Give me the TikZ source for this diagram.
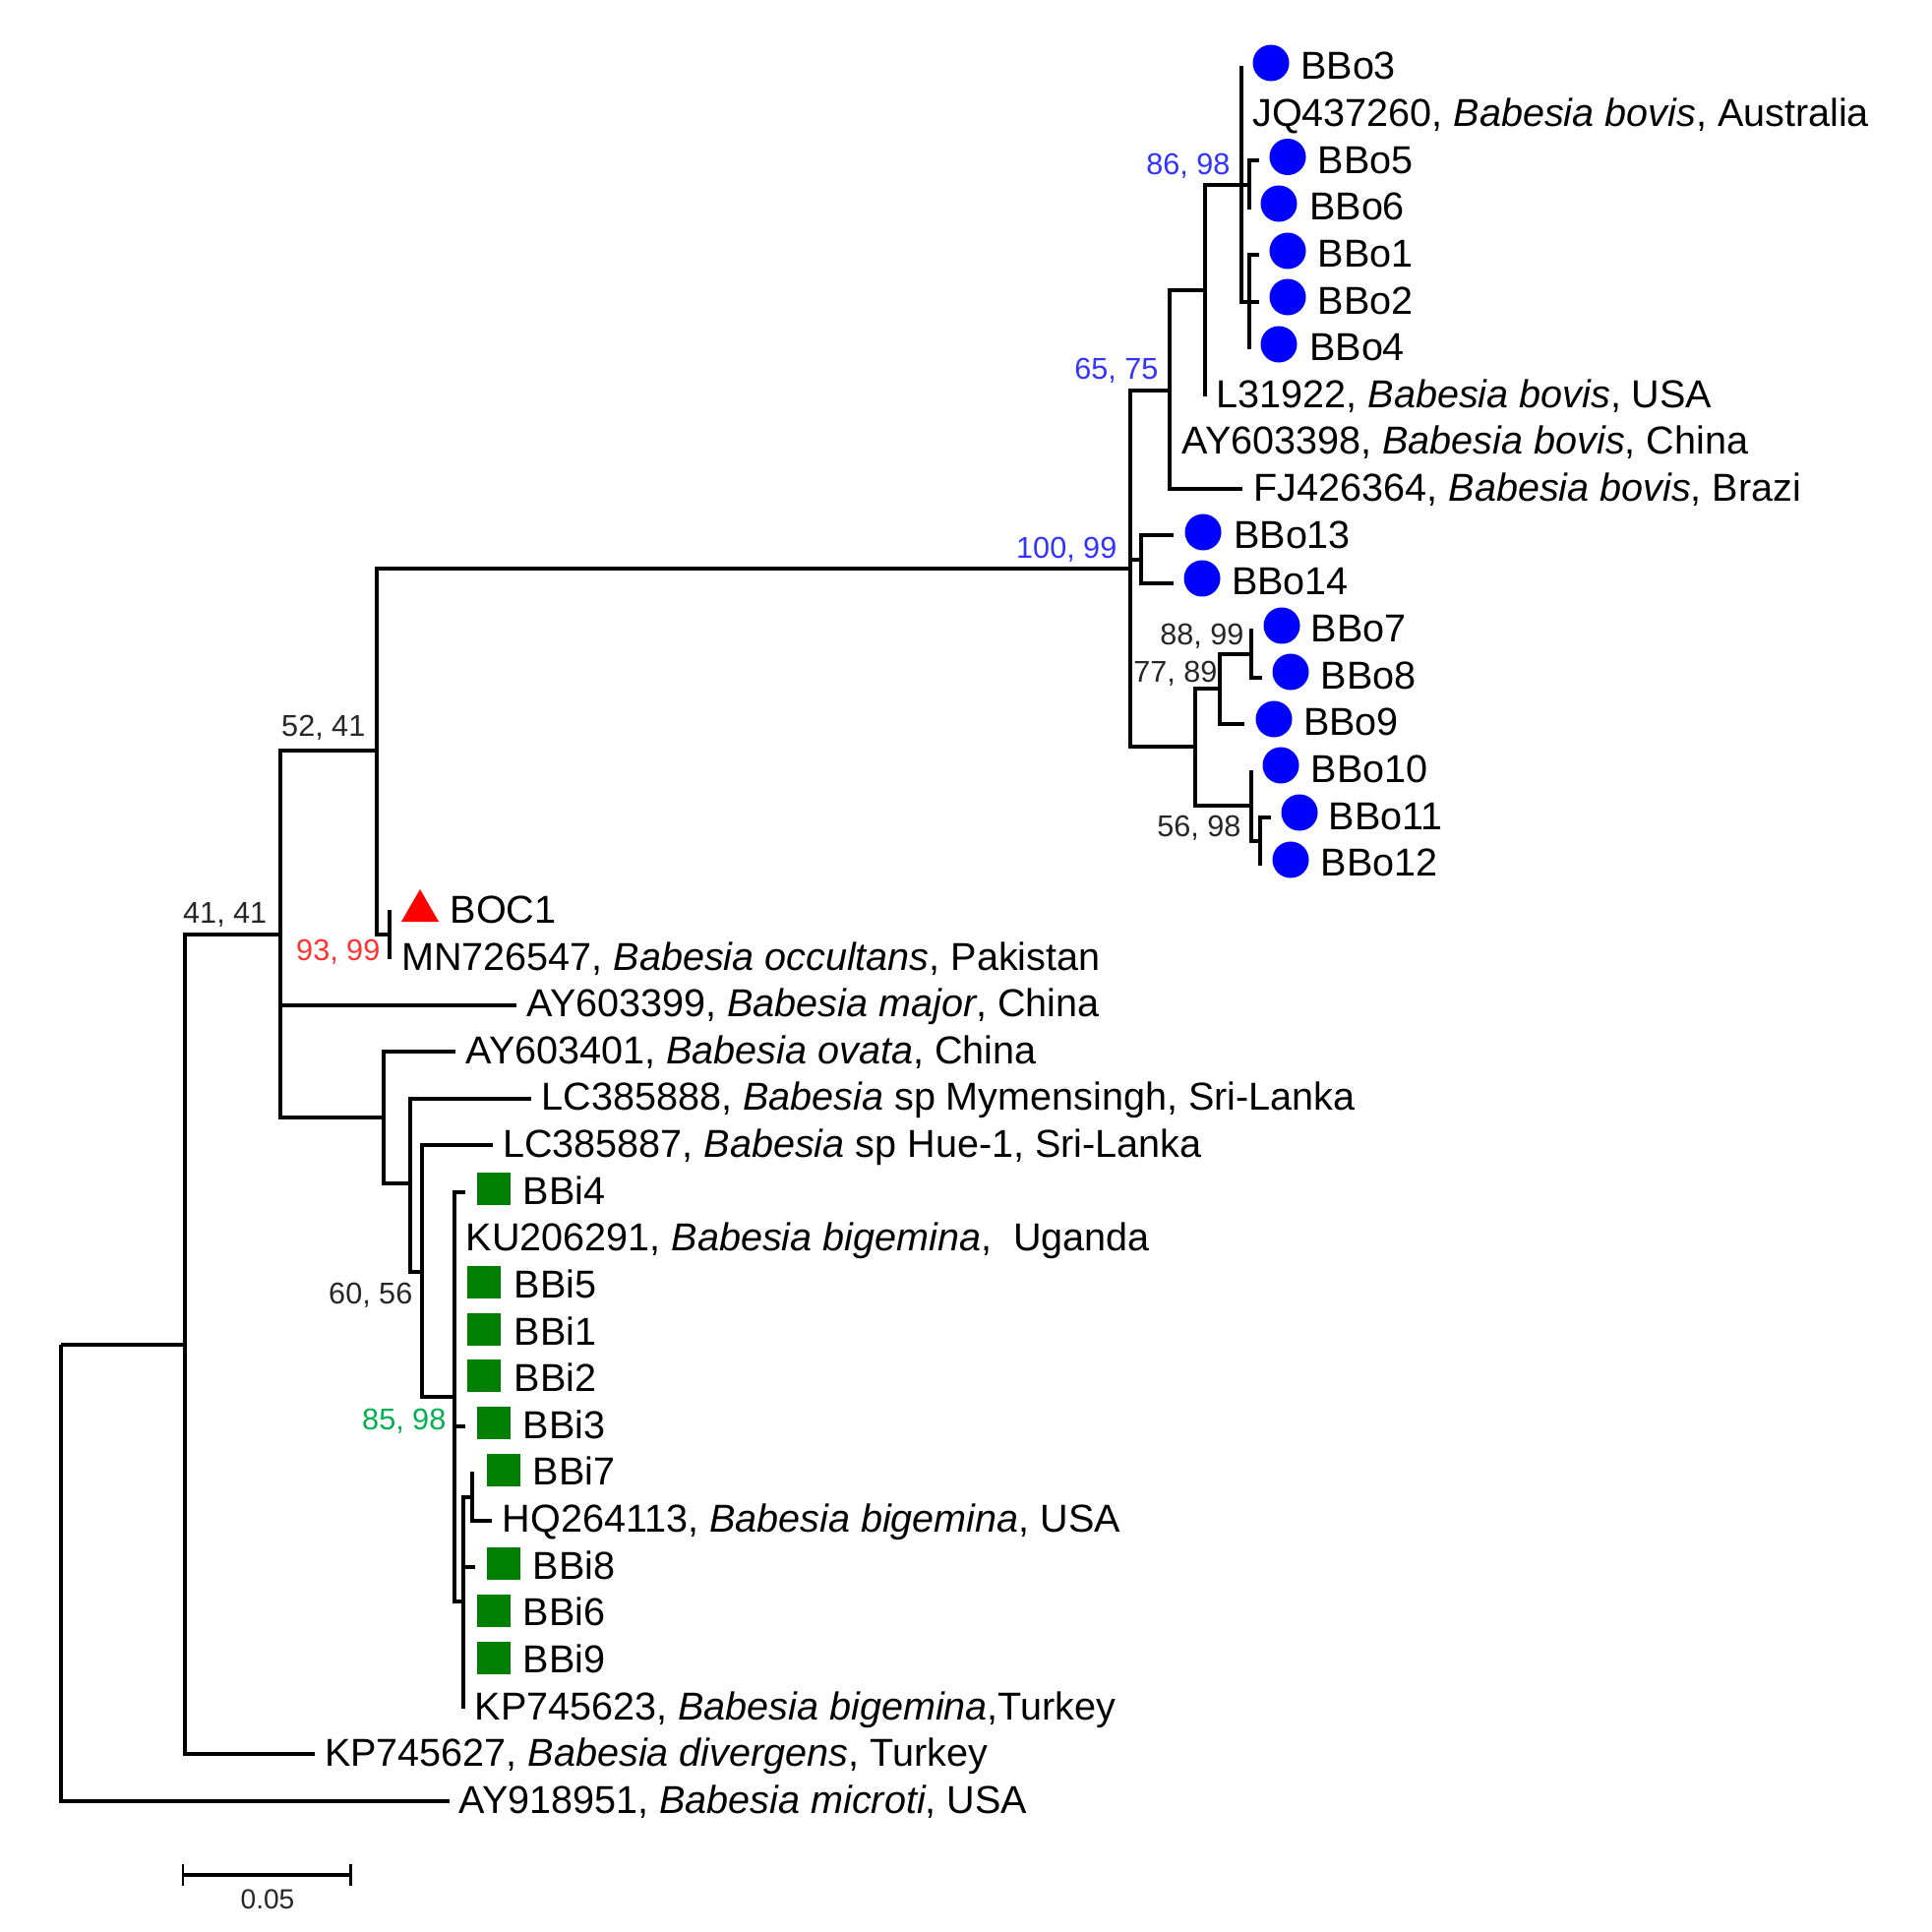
\documentclass[tikz,border=0pt]{standalone}
\usepackage{fontspec}
\setmainfont{Liberation Sans}
\usetikzlibrary{shapes.geometric, arrows.meta}
\definecolor{supportblue}{RGB}{51,51,255}
\definecolor{supportred}{RGB}{255,51,51}
\definecolor{supportgreen}{RGB}{0,176,80}
\definecolor{markergreen}{RGB}{0,128,0}

\begin{document}
\begin{tikzpicture}[x=0.01cm, y=-0.01cm]

  % Styles
  \tikzstyle{branch}=[line width=0.95pt]
  \tikzstyle{taxon}=[anchor=base west, inner sep=0pt, font=\fontsize{11.25}{13}\selectfont]
  \tikzstyle{support}=[anchor=east, inner sep=0pt, text=black!85, font=\fontsize{8.7}{10}\selectfont]
  \tikzstyle{bovis}=[circle, fill=blue, inner sep=0pt, minimum size=3.7mm]
  \tikzstyle{bigemina}=[rectangle, fill=markergreen, inner sep=0pt, minimum size=3.3mm]
  \tikzstyle{occultans}=[regular polygon, regular polygon sides=3, fill=red, inner sep=0pt, minimum size=4.4mm]

  \useasboundingbox (0,0) rectangle (1964,1964);

  % Inner forks
  \coordinate (root) at (62,1367);
  \coordinate (n1) at (188,1367);
  \coordinate (n2) at (285,950);
  \coordinate (n3) at (383,763);
  \coordinate (n4) at (390,1136);
  \coordinate (n5) at (1149,578);
  \coordinate (n6) at (417,1203);
  \coordinate (n7) at (429,1293);
  \coordinate (n8) at (462,1420);
  \coordinate (n9) at (471,1628);
  \coordinate (n10) at (480,1522);
  \coordinate (n11) at (1189,397);
  \coordinate (n12) at (1160,569);
  \coordinate (n13) at (1215,759);
  \coordinate (n14) at (1225,295);
  \coordinate (n15) at (1262,188);
  \coordinate (n17) at (1270,188);
  \coordinate (n18) at (1270,307);
  \coordinate (n19) at (1240,700);
  \coordinate (n20) at (1272,819);
  \coordinate (n21) at (1272,665);
  \coordinate (n22) at (1281,855);
  \coordinate (nBOC) at (396,950);

  % Branch tips
  \coordinate (tBBo3) at (1262,67);
  \coordinate (tBBo5) at (1280,163);
  \coordinate (tBBo6) at (1270,213);
  \coordinate (tBBo1) at (1280,259);
  \coordinate (tBBo2) at (1280,307);
  \coordinate (tBBo4) at (1270,355);
  \coordinate (tL) at (1225,403);
  \coordinate (tFJ) at (1263,497);
  \coordinate (tBBo13) at (1193,544);
  \coordinate (tBBo14) at (1193,593);
  \coordinate (tBBo7) at (1272,639);
  \coordinate (tBBo8) at (1283,689);
  \coordinate (tBBo9) at (1265,736);
  \coordinate (tBBo10) at (1272,783);
  \coordinate (tBBo11) at (1292,831);
  \coordinate (tBBo12) at (1281,880);
  \coordinate (tBOC) at (396,925);
  \coordinate (tMN) at (396,975);
  \coordinate (tMajor) at (525,1022);
  \coordinate (tOvata) at (463,1069);
  \coordinate (tLC8) at (540,1117);
  \coordinate (tLC7) at (501,1164);
  \coordinate (tBBi4) at (473,1212);
  \coordinate (tBBi3) at (473,1450);
  \coordinate (tBBi7) at (480,1496);
  \coordinate (tHQ) at (500,1546);
  \coordinate (tBBi8) at (483,1593);
  \coordinate (tKP3) at (471,1737);
  \coordinate (tKP7) at (320,1783);
  \coordinate (tMicroti) at (457,1831);

  % Root and lower part of the tree
  \draw[branch] (root) -- (n1);
  \draw[branch] (root) |- (tMicroti);
  \draw[branch] (n1) |- (n2);
  \draw[branch] (n1) |- (tKP7);
  \draw[branch] (n2) |- (n3);
  \draw[branch] (n2) |- (tMajor);
  \draw[branch] (n2) |- (n4);
  \draw[branch] (n3) |- (n5);
  \draw[branch] (n3) |- (nBOC);
  \draw[branch] (nBOC) -- (tBOC);
  \draw[branch] (nBOC) -- (tMN);
  \draw[branch] (n4) |- (tOvata);
  \draw[branch] (n4) |- (n6);
  \draw[branch] (n6) |- (tLC8);
  \draw[branch] (n6) |- (n7);
  \draw[branch] (n7) |- (tLC7);
  \draw[branch] (n7) |- (n8);
  \draw[branch] (n8) |- (tBBi4);
  \draw[branch] (n8) |- (tBBi3);
  \draw[branch] (n8) |- (n9);
  \draw[branch] (n9) |- (n10);
  \draw[branch] (n9) |- (tBBi8);
  \draw[branch] (n9) -- (tKP3);
  \draw[branch] (n10) -- (tBBi7);
  \draw[branch] (n10) |- (tHQ);

  % Upper part of the tree
  \draw[branch] (n5) |- (n11);
  \draw[branch] (n5) |- (n12);
  \draw[branch] (n5) |- (n13);
  \draw[branch] (n11) |- (n14);
  \draw[branch] (n11) |- (tFJ);
  \draw[branch] (n14) |- (n15);
  \draw[branch] (n14) -- (tL);
  \draw[branch] (n15) -- (tBBo3);
  \draw[branch] (n15) -- (n17);
  \draw[branch] (n15) |- (n18);
  \draw[branch] (n17) |- (tBBo5);
  \draw[branch] (n17) -- (tBBo6);
  \draw[branch] (n18) |- (tBBo1);
  \draw[branch] (n18) -- (tBBo2);
  \draw[branch] (n18) -- (tBBo4);
  \draw[branch] (n12) |- (tBBo13);
  \draw[branch] (n12) |- (tBBo14);
  \draw[branch] (n13) |- (n19);
  \draw[branch] (n13) |- (n20);
  \draw[branch] (n19) |- (n21);
  \draw[branch] (n19) |- (tBBo9);
  \draw[branch] (n21) -- (tBBo7);
  \draw[branch] (n21) |- (tBBo8);
  \draw[branch] (n20) -- (tBBo10);
  \draw[branch] (n20) |- (n22);
  \draw[branch] (n22) |- (tBBo11);
  \draw[branch] (n22) -- (tBBo12);

  % Markers, Babesia bovis group
  \node[bovis] (mBBo3) at (1292,64) {};
  \node[bovis] (mBBo5) at (1309,159.5) {};
  \node[bovis] (mBBo6) at (1300,207) {};
  \node[bovis] (mBBo1) at (1309,255) {};
  \node[bovis] (mBBo2) at (1309,302) {};
  \node[bovis] (mBBo4) at (1300,350) {};
  \node[bovis] (mBBo13) at (1223,541) {};
  \node[bovis] (mBBo14) at (1222,588) {};
  \node[bovis] (mBBo7) at (1303,636) {};
  \node[bovis] (mBBo8) at (1312,683) {};
  \node[bovis] (mBBo9) at (1295,731) {};
  \node[bovis] (mBBo10) at (1302,778) {};
  \node[bovis] (mBBo11) at (1321,826) {};
  \node[bovis] (mBBo12) at (1312,874) {};

  % Marker, Babesia occultans
  \node[occultans] (mBOC) at (427,926) {};

  % Markers, Babesia bigemina group
  \node[bigemina] (mBBi4) at (502,1208) {};
  \node[bigemina] (mBBi5) at (492,1303) {};
  \node[bigemina] (mBBi1) at (492,1351) {};
  \node[bigemina] (mBBi2) at (492,1398) {};
  \node[bigemina] (mBBi3) at (502,1446) {};
  \node[bigemina] (mBBi7) at (512,1494) {};
  \node[bigemina] (mBBi8) at (512,1589) {};
  \node[bigemina] (mBBi6) at (502,1637) {};
  \node[bigemina] (mBBi9) at (502,1685) {};

  % Taxon labels
  \node[taxon] (BBo3) at (1321.5,81) {BBo3};
  \node[taxon] (JQ) at (1272.5,128.6) {JQ437260, \textit{Babesia bovis}, Australia};
  \node[taxon] (BBo5) at (1339,176.3) {BBo5};
  \node[taxon] (BBo6) at (1330.5,223.9) {BBo6};
  \node[taxon] (BBo1) at (1339,271.5) {BBo1};
  \node[taxon] (BBo2) at (1339,319.2) {BBo2};
  \node[taxon] (BBo4) at (1330.5,366.8) {BBo4};
  \node[taxon] (L) at (1236,414.4) {L31922, \textit{Babesia bovis}, USA};
  \node[taxon] (AY8) at (1201,462) {AY603398, \textit{Babesia bovis}, China};
  \node[taxon] (FJ) at (1274,509.7) {FJ426364, \textit{Babesia bovis}, Brazi};
  \node[taxon] (BBo13) at (1253.5,557.3) {BBo13};
  \node[taxon] (BBo14) at (1251.5,604.9) {BBo14};
  \node[taxon] (BBo7) at (1332,652.6) {BBo7};
  \node[taxon] (BBo8) at (1342,700.2) {BBo8};
  \node[taxon] (BBo9) at (1324.5,747.8) {BBo9};
  \node[taxon] (BBo10) at (1332,795.5) {BBo10};
  \node[taxon] (BBo11) at (1350,843.1) {BBo11};
  \node[taxon] (BBo12) at (1342,890.7) {BBo12};
  \node[taxon] (BOC) at (457,938.3) {BOC1};
  \node[taxon] (MN) at (407.5,986) {MN726547, \textit{Babesia occultans}, Pakistan};
  \node[taxon] (Major) at (535,1033.6) {AY603399, \textit{Babesia major}, China};
  \node[taxon] (Ovata) at (473,1081.2) {AY603401, \textit{Babesia ovata}, China};
  \node[taxon] (LC8) at (550,1128.9) {LC385888, \textit{Babesia} sp Mymensingh, Sri-Lanka};
  \node[taxon] (LC7) at (510.5,1176.5) {LC385887, \textit{Babesia} sp Hue-1, Sri-Lanka};
  \node[taxon] (BBi4) at (531,1224.1) {BBi4};
  \node[taxon] (KU) at (473,1271.8) {KU206291, \textit{Babesia bigemina},\ \ Uganda};
  \node[taxon] (BBi5) at (522,1319.4) {BBi5};
  \node[taxon] (BBi1) at (522,1367) {BBi1};
  \node[taxon] (BBi2) at (522,1414.6) {BBi2};
  \node[taxon] (BBi3) at (531,1462.3) {BBi3};
  \node[taxon] (BBi7) at (541,1509.9) {BBi7};
  \node[taxon] (HQ) at (510,1557.5) {HQ264113, \textit{Babesia bigemina}, USA};
  \node[taxon] (BBi8) at (541,1605.2) {BBi8};
  \node[taxon] (BBi6) at (531,1652.8) {BBi6};
  \node[taxon] (BBi9) at (531,1700.4) {BBi9};
  \node[taxon] (KP3) at (482,1748.1) {KP745623, \textit{Babesia bigemina},Turkey};
  \node[taxon] (KP7) at (329.5,1795.7) {KP745627, \textit{Babesia divergens}, Turkey};
  \node[taxon] (Microti) at (466,1843.3) {AY918951, \textit{Babesia microti}, USA};

  % Support values
  \node[support, text=supportblue] (s8698) at (1251,169) {86, 98};
  \node[support, text=supportblue] (s6575) at (1178,377) {65, 75};
  \node[support, text=supportblue] (s10099) at (1136,559) {100, 99};
  \node[support] (s8899) at (1265,647) {88, 99};
  \node[support] (s7789) at (1238,685) {77, 89};
  \node[support] (s5698) at (1262,842) {56, 98};
  \node[support] (s5241) at (372,740) {52, 41};
  \node[support] (s4141) at (272,930) {41, 41};
  \node[support, text=supportred] (s9399) at (387,968) {93, 99};
  \node[support] (s6056) at (420,1317) {60, 56};
  \node[support, text=supportgreen] (s8598) at (454,1445) {85, 98};

  % Scale bar
  \coordinate (barL) at (184.5,1906);
  \coordinate (barR) at (357.5,1906);
  \draw[line width=1.1pt, {Bar[width=2.2mm, line width=0.85pt]}-{Bar[width=2.2mm, line width=0.85pt]}] (barL) -- (barR);
  \node[inner sep=0pt, text=black!85, font=\fontsize{8}{10}\selectfont] (barText) at (272,1931) {0.05};

\end{tikzpicture}
\end{document}
